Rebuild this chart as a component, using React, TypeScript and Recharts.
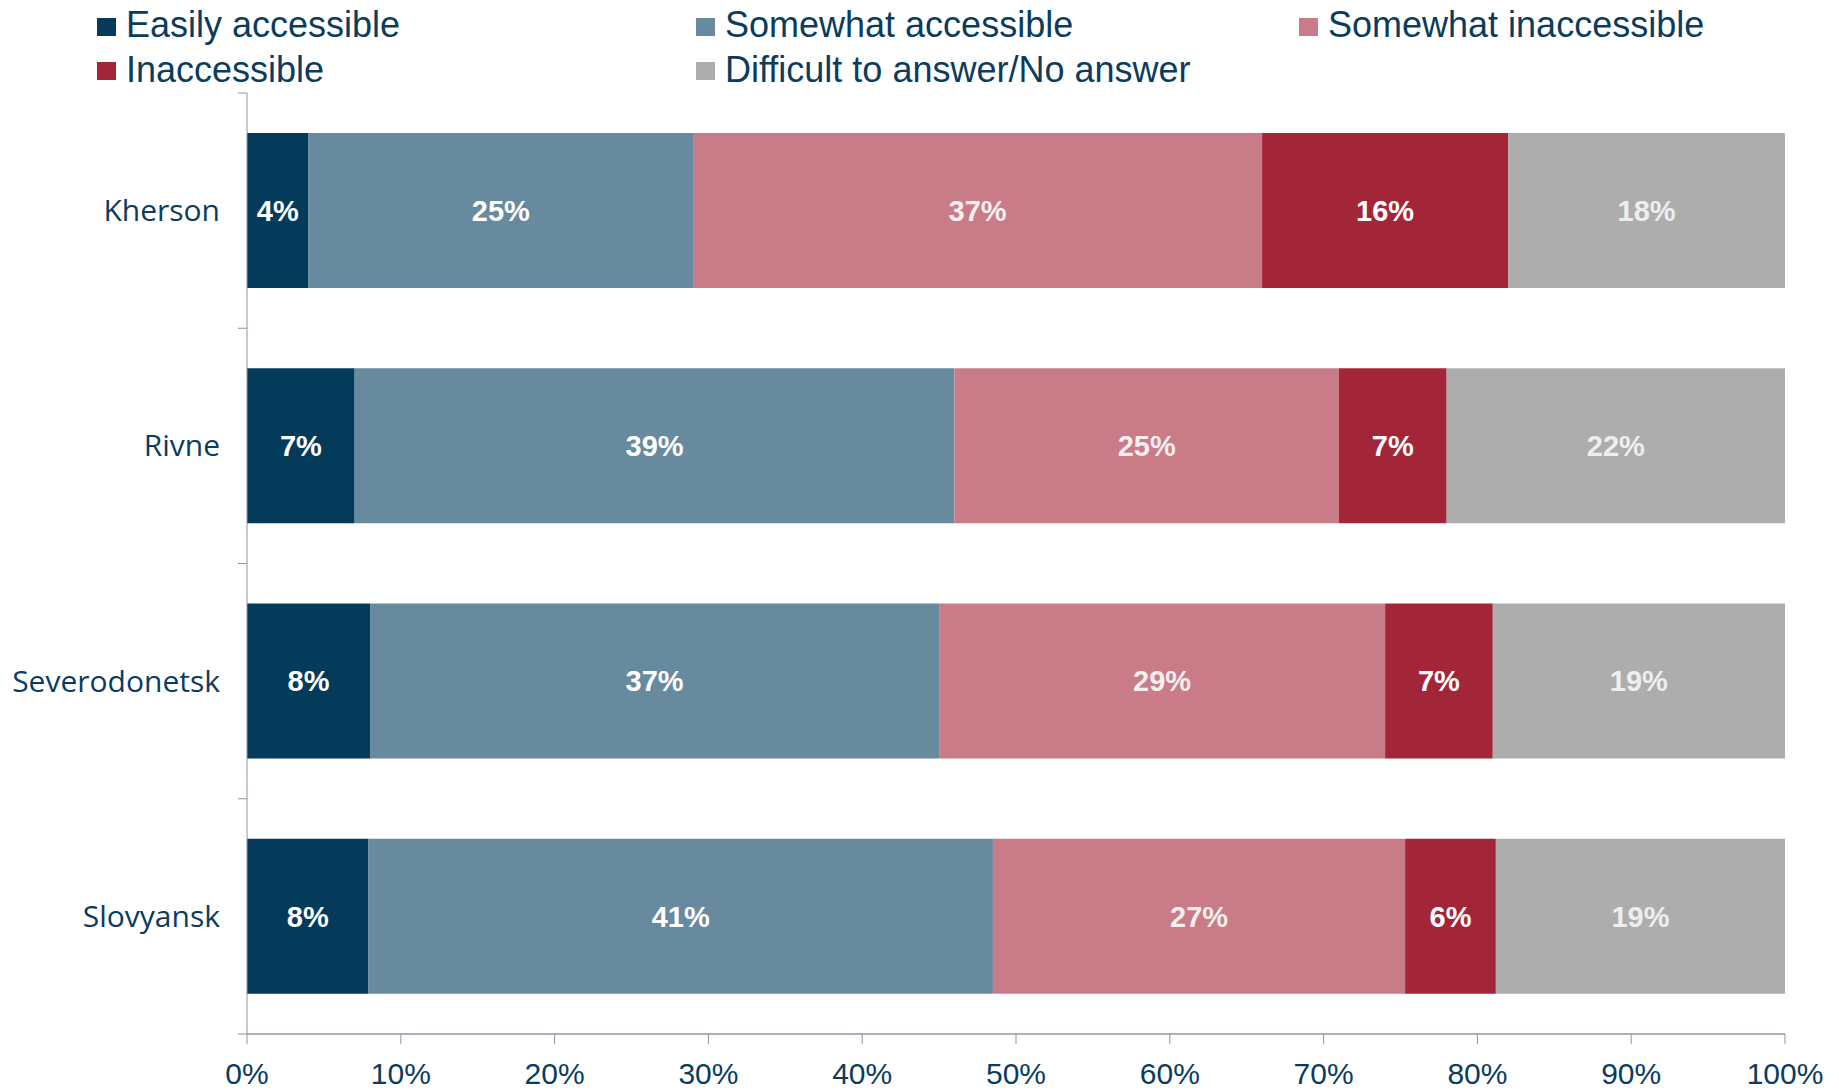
import { Bar, BarChart, LabelList, Legend, XAxis, YAxis } from "recharts";

const cities = ["Kherson", "Rivne", "Severodonetsk", "Slovyansk"];
const easilyAccessible = [4, 7, 8, 7.9];
const somewhatAccessible = [25, 39, 37, 40.6];
const somewhatInaccessible = [37, 25, 29, 26.8];
const inaccessible = [16, 7, 7, 5.9];
const noAnswer = [18, 22, 19, 18.8];
const percentTicks = [0, 10, 20, 30, 40, 50, 60, 70, 80, 90, 100];

const textColor = "#0b3c5d";
const axisColor = "#8c95a6";
const CITY_TICK_SIZE = 9;
const CITY_TICK_MARGIN = 18;

const series = [
  { key: "easily", name: "Easily accessible", color: "#043a5a", label: "#ffffff", values: easilyAccessible },
  { key: "somewhatAcc", name: "Somewhat accessible", color: "#678a9e", label: "#ffffff", values: somewhatAccessible },
  { key: "somewhatInacc", name: "Somewhat inaccessible", color: "#c97c87", label: "#f6eeef", values: somewhatInaccessible },
  { key: "inacc", name: "Inaccessible", color: "#a32638", label: "#ffffff", values: inaccessible },
  { key: "noAnswer", name: "Difficult to answer/No answer", color: "#adadae", label: "#eeeeee", values: noAnswer },
];

const data = cities.map((city, i) => {
  const row: Record<string, string | number> = { city };
  series.forEach((s) => {
    row[s.key] = s.values[i];
  });
  return row;
});

// city label plus tick marks on the band edges (Excel style)
const CityTick = (props: any) => {
  const { x, y, payload, index } = props;
  const half = payload?.offset ?? 0;
  const lineEnd = x + CITY_TICK_MARGIN + CITY_TICK_SIZE;
  const lineStart = x + CITY_TICK_MARGIN;
  return (
    <g>
      <line x1={lineStart} x2={lineEnd} y1={y - half} y2={y - half} stroke={axisColor} />
      {index === cities.length - 1 && (
        <line x1={lineStart} x2={lineEnd} y1={y + half} y2={y + half} stroke={axisColor} />
      )}
      <text
        x={x}
        y={y}
        dy="0.35em"
        textAnchor="end"
        fill={textColor}
        fontSize={30}
        fontFamily="'Open Sans', 'Noto Sans', sans-serif"
      >
        {payload.value}
      </text>
    </g>
  );
};

const renderLegend = () => (
  <div
    style={{
      display: "grid",
      gridTemplateColumns: "599px 603px 600px",
      alignContent: "start",
      paddingLeft: 97,
      height: 93,
      fontFamily: "'Liberation Sans', Arial, sans-serif",
      fontSize: 36,
      lineHeight: "44.5px",
      color: textColor,
    }}
  >
    {series.map((s) => (
      <div key={s.key} style={{ display: "flex", alignItems: "flex-start", whiteSpace: "nowrap" }}>
        <span
          style={{
            width: 19,
            height: 18,
            background: s.color,
            marginTop: 14.5,
            marginRight: 10,
            flexShrink: 0,
          }}
        />
        <span>{s.name}</span>
      </div>
    ))}
  </div>
);

export default function App() {
  return (
    <div style={{ width: 1839, height: 1090, background: "#fff" }}>
      <style>{"html, body { margin: 0; padding: 0; overflow: hidden; }"}</style>
      <BarChart
        width={1839}
        height={1090}
        data={data}
        layout="vertical"
        barCategoryGap="17%"
        margin={{ top: 0, right: 54, left: 247, bottom: 0 }}
      >
        <Legend
          verticalAlign="top"
          align="left"
          content={renderLegend}
          wrapperStyle={{ top: 3, left: 0, width: 1839, margin: 0 }}
        />
        <XAxis
          type="number"
          domain={[0, 100]}
          ticks={percentTicks}
          interval={0}
          tickFormatter={(v) => `${v}%`}
          height={56}
          tickSize={10}
          tickMargin={19}
          axisLine={{ stroke: axisColor, strokeWidth: 1.5 }}
          tickLine={{ stroke: axisColor }}
          tick={{
            fill: textColor,
            fontSize: 30,
            fontFamily: "'Liberation Sans Narrow', 'Arial Narrow', sans-serif",
          }}
        />
        <YAxis
          type="category"
          dataKey="city"
          width={0.01}
          interval={0}
          axisLine={{ stroke: axisColor }}
          tickLine={false}
          tickSize={CITY_TICK_SIZE}
          tickMargin={CITY_TICK_MARGIN}
          tick={<CityTick />}
        />
        {series.map((s) => (
          <Bar
            key={s.key}
            dataKey={s.key}
            name={s.name}
            stackId="a"
            fill={s.color}
            isAnimationActive={false}
          >
            <LabelList
              dataKey={s.key}
              position="center"
              formatter={(v: number) => `${Math.round(v)}%`}
              fill={s.label}
              fontSize={29}
              fontWeight="bold"
              fontFamily="'Liberation Sans', Arial, sans-serif"
            />
          </Bar>
        ))}
      </BarChart>
    </div>
  );
}
